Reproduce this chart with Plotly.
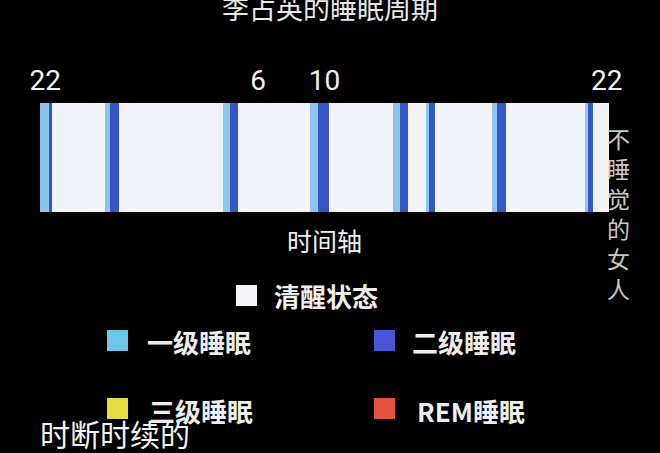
import plotly.graph_objects as go

# sleep timeline, hours counted from 22:00
seg_start = [0.00, 0.38, 0.51, 2.74, 2.95, 3.33, 7.72, 8.01, 8.35, 11.39, 11.72, 12.19,
             14.89, 15.19, 15.52, 16.32, 16.40, 16.66, 19.07, 19.28, 19.66, 22.99, 23.11, 23.32]
seg_end = [0.38, 0.51, 2.74, 2.95, 3.33, 7.72, 8.01, 8.35, 11.39, 11.72, 12.19, 14.89,
           15.19, 15.52, 16.32, 16.40, 16.66, 19.07, 19.28, 19.66, 22.99, 23.11, 23.32, 24.00]
seg_stage = ['n1', 'n2', 'wake', 'n1', 'n2', 'wake', 'n1', 'n2', 'wake', 'n1', 'n2', 'wake',
             'n1', 'n2', 'wake', 'n1', 'n2', 'wake', 'n1', 'n2', 'wake', 'n1', 'n2', 'wake']

stage_names = ['wake', 'n1', 'n2']
stage_colors = {'wake': '#f1f3f9', 'n1': '#8cc6ec', 'n2': '#3556c6'}

tick_pos = [0.22, 9.2, 12.0, 23.9]
tick_text = ['22', '6', '10', '22']

legend_labels = ['清醒状态', '一级睡眠', '二级睡眠', '三级睡眠', 'REM睡眠']
legend_colors = ['#f4f4f6', '#6cc8e6', '#4a55d8', '#e6dc44', '#e65440']

W, H = 660, 453
cjk = 'Noto Sans CJK SC'

fig = go.Figure()
for st in stage_names:
    base = [s for s, g in zip(seg_start, seg_stage) if g == st]
    dur = [e - s for s, e, g in zip(seg_start, seg_end, seg_stage) if g == st]
    fig.add_trace(go.Bar(
        y=['sleep'] * len(base), x=dur, base=base, orientation='h',
        marker=dict(color=stage_colors[st], line=dict(width=0)),
        width=1, showlegend=False, hoverinfo='skip'))


def px(x):
    return x / W


def py(y):
    return 1 - y / H


annos = [
    dict(text='李占英的睡眠周期', x=px(330), y=py(8), font=dict(size=27, color='#e8e8e8')),
    dict(text='时间轴', x=px(324), y=py(240), font=dict(size=25, color='#f0f0f0')),
    dict(text='不<br>睡<br>觉<br>的<br>女<br>人', x=px(618), y=py(213), font=dict(size=23, color='#c8c8c8')),
    dict(text='时断时续的', x=px(38), y=py(433), xanchor='left', font=dict(size=30, color='#f4f4f4')),
]

# legend: square + label
leg_sq = [(236, 285), (107, 330), (374, 330), (107, 398), (374, 398)]
leg_tx = [(272, 295), (145, 341), (410, 341), (147, 410), (415, 410)]
shapes = []
for (sx, sy), (tx, ty), lab, col in zip(leg_sq, leg_tx, legend_labels, legend_colors):
    shapes.append(dict(type='rect', xref='paper', yref='paper', x0=px(sx), x1=px(sx + 21),
                       y0=py(sy), y1=py(sy + 21), fillcolor=col, line=dict(width=0)))
    annos.append(dict(text=lab, x=px(tx), y=py(ty), xanchor='left',
                      font=dict(size=26, color='#eeeeee', weight='bold')))

for a in annos:
    a.setdefault('xanchor', 'center')
    a.update(xref='paper', yref='paper', showarrow=False, yanchor='middle')
    a['font'].setdefault('family', cjk)

fig.update_layout(
    width=W, height=H, autosize=False,
    margin=dict(l=0, r=0, t=0, b=0, pad=0, autoexpand=False),
    paper_bgcolor='black', plot_bgcolor='black',
    barmode='overlay', bargap=0,
    font=dict(family=cjk, color='white'),
    xaxis=dict(domain=[px(40), px(609)], range=[0, 24], side='top', automargin=False,
               tickvals=tick_pos, ticktext=tick_text, showgrid=False, zeroline=False,
               ticks='', ticklabelstandoff=6,
               tickfont=dict(family='Liberation Sans Narrow, Roboto', size=28, color='#f2f2f2')),
    yaxis=dict(domain=[py(212), py(103)], range=[-0.5, 0.5], visible=False, automargin=False),
    annotations=annos,
    shapes=shapes,
)

fig.write_html("out.html", config={'displayModeBar': False},
               post_script="document.body.style.margin='0';document.body.style.background='black';"
                           "document.body.style.overflow='hidden';")
